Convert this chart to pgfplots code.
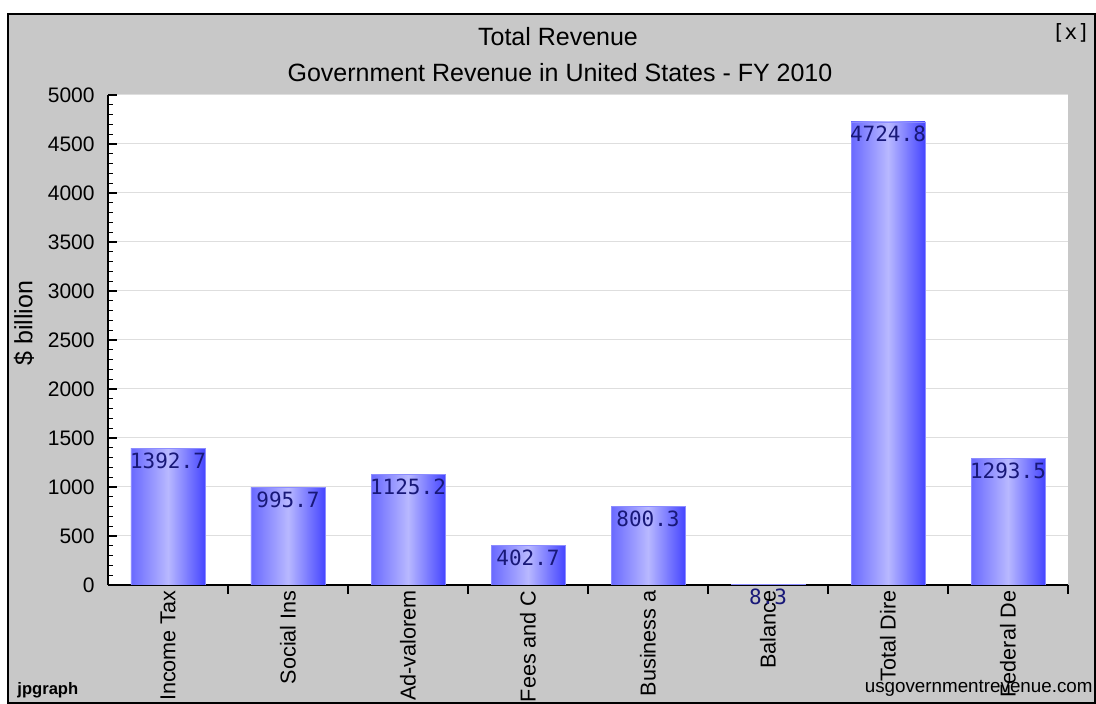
\documentclass[border=0pt]{standalone}
\usepackage{fontspec}
\setmainfont{Liberation Sans}
\newfontfamily\monofont{DejaVu Sans Mono}
\usepackage{pgfplots}
\pgfplotsset{compat=1.18}

\definecolor{framebg}{RGB}{200,200,200}
\definecolor{barleft}{RGB}{105,105,255}
\definecolor{barmid}{RGB}{184,184,255}
\definecolor{barright}{RGB}{70,70,255}
\definecolor{barline}{RGB}{140,140,255}
\definecolor{valcol}{RGB}{24,24,120}
\definecolor{gridcol}{RGB}{222,222,222}

% one bar per \addplot so every bar gets its own gradient
\pgfplotsset{gradbar/.style={draw=barline, line width=0.4pt, shading=axis,
    left color=barleft, right color=barright, middle color=barmid}}

\begin{document}
\begin{tikzpicture}
% page 1096x704 px, 1 px = 0.5 pt
\path[use as bounding box, fill=white] (0,0) rectangle (548pt,352pt);
\draw[fill=framebg, line width=1pt] (4pt,0.5pt) rectangle (547.5pt,345pt);

\begin{axis}[
    at={(54pt,59.5pt)}, anchor=south west,
    scale only axis,
    width=480pt, height=245pt,
    xmin=-0.5, xmax=7.5,
    ymin=0, ymax=5000,
    enlargelimits=false,
    axis background/.style={fill=white},
    axis x line*=bottom,
    axis y line*=left,
    axis line style={line width=0.8pt, black},
    tick align=inside,
    major tick length=4.5pt,
    minor tick length=2.5pt,
    tick style={black, line width=0.6pt},
    xtick={0.5,1.5,...,7.5},
    xticklabels={},
    extra x ticks={0,1,2,3,4,5,6,7},
    extra x tick labels={Income Tax,Social Ins,Ad-valorem,Fees and C,Business a,Balance,Total Dire,Federal De},
    extra x tick style={major tick length=0pt, grid=none,
        tick label style={rotate=90, anchor=east, font=\fontsize{10.8}{12}\selectfont, inner sep=0pt, xshift=-2.5pt}},
    ytick={0,500,...,5000},
    minor y tick num=4,
    ymajorgrids,
    major grid style={gridcol, line width=0.5pt},
    /pgf/number format/assume math mode=true,
    /pgf/number format/1000 sep={},
    yticklabel style={font=\fontsize{10.5}{12}\selectfont, anchor=east, inner sep=0pt, xshift=-6.5pt},
    ybar, bar width=37pt, bar shift=0pt,
    nodes near coords={\pgfmathprintnumber[fixed,fixed zerofill,precision=1,1000 sep={}]{\pgfplotspointmeta}},
    every node near coord/.append style={anchor=north, yshift=-1pt, inner sep=1pt,
        font=\monofont\fontsize{10.5}{12}\selectfont, text=valcol},
]
\addplot[gradbar] coordinates {(0,1392.7)};
\addplot[gradbar] coordinates {(1,995.7)};
\addplot[gradbar] coordinates {(2,1125.2)};
\addplot[gradbar] coordinates {(3,402.7)};
\addplot[gradbar] coordinates {(4,800.3)};
\addplot[gradbar] coordinates {(5,8.3)};
\addplot[gradbar] coordinates {(6,4724.8)};
\addplot[gradbar] coordinates {(7,1293.5)};
\end{axis}

\node[font=\fontsize{12.5}{14}\selectfont] at (279pt,333.5pt) {Total Revenue};
\node[font=\fontsize{12.5}{14}\selectfont] at (280pt,315.5pt) {Government Revenue in United States - FY 2010};
\node[font=\fontsize{12.5}{14}\selectfont, rotate=90] at (12pt,190.5pt) {\$ billion};
\node[font=\monofont\fontsize{10.5}{12}\selectfont] at (535.5pt,335.5pt) {[x]};
\node[font=\bfseries\fontsize{8.3}{10}\selectfont, anchor=west, inner sep=0pt] at (8.5pt,7pt) {jpgraph};
\node[font=\fontsize{9.4}{11}\selectfont, anchor=east, inner sep=0pt] at (546.5pt,8pt) {usgovernmentrevenue.com};
\end{tikzpicture}
\end{document}
